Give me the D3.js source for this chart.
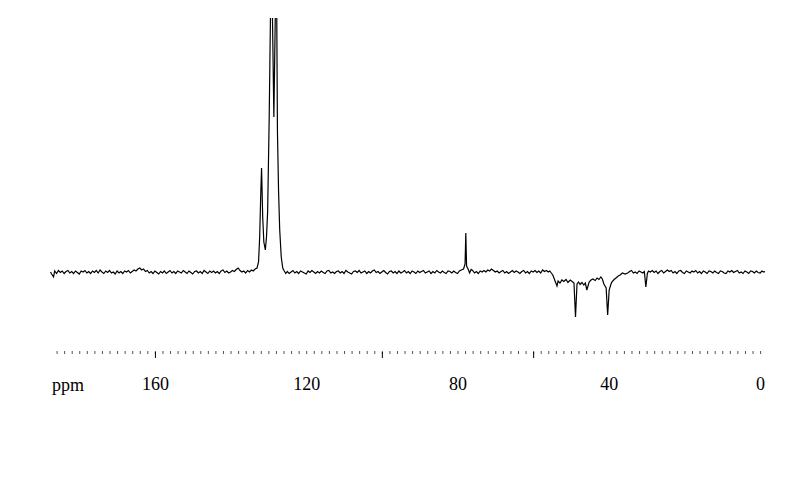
<!DOCTYPE html>
<html>
<head>
<meta charset="utf-8">
<script src="https://cdn.jsdelivr.net/npm/d3@7"></script>
<style>
  body { margin: 0; background: #fff; }
  svg { display: block; }
</style>
</head>
<body>
<script>
// 13C NMR spectrum, values as [ppm, intensity]

const leftBaseline = [
  [187.6, 0], [187.3, -2], [186.8, -5], [186.5, 1], [186, -1.5], [185.5, 1.5], [185, -0.5],
  [184.5, 1], [184, -1.5], [183.5, 0.5], [183, 1.5], [182.5, -1], [182, 0.5], [181.5, -1.5],
  [181, 1], [180.5, -0.5], [180, -2], [179.5, 1], [179, 0], [178.5, 1.5], [178, -1],
  [177.5, 0.5], [177, -1.5], [176.5, 1], [176, -0.5], [175.5, 1.5], [175, -1], [174.5, 2],
  [174, 0], [173.5, -1.5], [173, 1], [172.5, -0.5], [172, 1.5], [171.5, -1], [171, 0],
  [170.5, -2], [170, 1], [169.5, -1], [169, 0.5], [168.5, -1.5], [168, 1], [167.5, 0],
  [167, 1.5], [166.5, -1], [166, 0.5], [165.5, 2], [165, 1], [164.5, 3], [164, 4],
  [163.5, 2], [163, 3], [162.5, 0.5], [162, 1.5], [161.5, -1], [161, 0.5], [160.5, -1.5],
  [160, 1], [159.5, -0.5], [159, -2], [158.5, 0.5], [158, -1], [157.5, 1], [157, -1.5],
  [156.5, 0], [156, 1.5], [155.5, -1], [155, 0.5], [154.5, -1.5], [154, 1], [153.5, 0],
  [153, -1], [152.5, 1.5], [152, 0], [151.5, -1.5], [151, 1], [150.5, -0.5], [150, -2],
  [149.5, 0.5], [149, 1], [148.5, -1], [148, 0.5], [147.5, -1.5], [147, 1.5], [146.5, 0],
  [146, -1.5], [145.5, 1], [145, -0.5], [144.5, 1], [144, -1], [143.5, 0.5], [143, -1.5],
  [142.5, 1], [142, 2], [141.5, -0.5], [141, 1], [140.5, -1], [140, 0], [139.5, 1.5],
  [139, 0.5], [138.5, 2.5], [138, 4], [137.5, 1.5], [137, 0], [136.5, 1], [136, -1],
  [135.5, 1.5], [135, 0], [134.5, 2], [134, 1], [133.5, 3]
];

const aromaticPeaks = [
  [133, 4], [132.6, 10], [132.3, 35], [132, 80], [131.8, 104], [131.5, 55],
  [131.2, 30], [130.8, 22], [130.5, 35], [130.2, 60], [129.8, 150], [129.2, 330],
  [128.55, 155], [127.9, 330], [127.6, 140], [127.3, 80], [127, 42], [126.6, 15],
  [126.2, 4], [125.8, 1], [125.4, -1.5]
];

const midBaseline = [
  [125, 0.5], [124.5, -1.5], [124, 0], [123.5, 1.5], [123, -1], [122.5, 0.5], [122, -1.5],
  [121.5, 1], [121, 0], [120.5, -1], [120, -2], [119.5, 1], [119, -0.5], [118.5, 1.5],
  [118, 0], [117.5, -1.5], [117, 0.5], [116.5, -1], [116, 1], [115.5, -0.5], [115, -1.5],
  [114.5, 1], [114, 1.5], [113.5, -1], [113, 0], [112.5, -1.5], [112, 0.5], [111.5, 1],
  [111, -1], [110.5, 0.5], [110, -1.5], [109.5, 1.5], [109, 0], [108.5, -1], [108, -2],
  [107.5, 0.5], [107, 1], [106.5, -0.5], [106, 1.5], [105.5, -1], [105, 0], [104.5, 1],
  [104, -1.5], [103.5, 0.5], [103, -1], [102.5, 1], [102, 2], [101.5, -0.5], [101, 0.5],
  [100.5, -1.5], [100, 0], [99.5, 1.5], [99, -0.5], [98.5, -2], [98, 0.5], [97.5, 1],
  [97, -1], [96.5, 0.5], [96, -1.5], [95.5, 1], [95, -1], [94.5, 0], [94, 1.5], [93.5, -1],
  [93, 0.5], [92.5, -1.5], [92, 1], [91.5, 0], [91, -1.5], [90.5, 1], [90, -0.5],
  [89.5, 0.5], [89, 1.5], [88.5, -1], [88, 0], [87.5, 1], [87, -1.5], [86.5, 0.5],
  [86, -1], [85.5, 1.5], [85, 0], [84.5, -1], [84, 1], [83.5, -0.5], [83, -1.5],
  [82.5, 1], [82, 0.5], [81.5, -1], [81, 1], [80.5, -0.5], [80, -1.5], [79.5, 1], [79, 2]
];

const solventPeak = [
  [78.4, 3], [78, 8], [77.8, 39], [77.6, 6], [77.2, 3], [76.8, -1], [76.4, 2.5]
];

const midBaseline2 = [
  [76, 1.5], [75.5, -1], [75, 0.5], [74.5, -1.5], [74, 1], [73.5, 0], [73, 1.5],
  [72.5, 0], [72, 2], [71.5, 1], [71, 3], [70.5, 1.5], [70, 0], [69.5, 1], [69, -1],
  [68.5, 0.5], [68, 1.5], [67.5, -1], [67, 0.5], [66.5, -1.5], [66, 0], [65.5, 1.5],
  [65, -0.5], [64.5, 1], [64, 0], [63.5, -1.5], [63, 0.5], [62.5, 1.5], [62, -1],
  [61.5, 0.5], [61, -1.5], [60.5, 1], [60, 0], [59.5, 1.5], [59, -0.5], [58.5, 1],
  [58, -1], [57.5, 2], [57, 0.5], [56.5, 1.5], [56, 0]
];

const aliphatic = [
  [55.6, 1], [55.2, -1], [54.8, -3], [54.2, -9], [53.7, -14], [53.4, -9], [52.9, -11],
  [52.4, -8], [51.9, -9.5], [51.3, -7.5], [50.8, -10.5], [50.2, -8], [49.7, -9.5],
  [49.2, -11], [48.8, -45], [48.4, -12], [48, -10], [47.6, -12.5], [47.1, -10.5],
  [46.6, -13], [46.2, -11], [45.8, -18], [45.2, -10], [44.7, -8], [44.2, -7],
  [43.6, -8.5], [43.1, -6], [42.6, -7.5], [42.1, -5], [41.7, -7], [41.3, -12],
  [40.7, -16], [40.3, -43], [39.9, -18], [39.5, -13], [39.2, -10], [38.6, -7.5],
  [38.1, -6], [37.5, -4], [37, -3], [36.4, -1], [35.7, -2]
];

const rightBaseline = [
  [35, -1], [34.5, 0.5], [34, 1.5], [33.5, -1], [33, 0], [32.5, -1.5], [32, 1],
  [31.5, 0], [31, -1], [30.6, 0.5], [30.2, -15], [29.8, -1.5], [29.5, 1], [29, 0],
  [28.5, 1.5], [28, -0.5], [27.5, 1], [27, -1.5], [26.5, 0.5], [26, 1.5], [25.5, -1],
  [25, 0.5], [24.5, 2], [24, 0.5], [23.5, 1.5], [23, -1], [22.5, 0.5], [22, -1.5],
  [21.5, 1], [21, 1.5], [20.5, -0.5], [20, -1.5], [19.5, 1], [19, 0], [18.5, -1],
  [18, 1], [17.5, 0], [17, 1.5], [16.5, -1], [16, 0.5], [15.5, -1.5], [15, 1],
  [14.5, 0], [14, -1.5], [13.5, 1], [13, 0.5], [12.5, -1], [12, 1], [11.5, -0.5],
  [11, -1.5], [10.5, 1], [10, 0.5], [9.5, -1], [9, -1.5], [8.5, 1], [8, 0], [7.5, 1.5],
  [7, -0.5], [6.5, 0.5], [6, 1.5], [5.5, -1], [5, 0], [4.5, -1.5], [4, 1], [3.5, 0],
  [3, -1.5], [2.5, 1], [2, 0.5], [1.5, -1], [1, 1], [0.5, -0.5], [0, -1], [-0.5, 1],
  [-1, 0], [-1.3, 0.5]
];

const labelTicks = [160, 120, 80, 40, 0];
const majorTicks = [160, 100, 60];

const spectrum = [].concat(leftBaseline, aromaticPeaks, midBaseline, solventPeak,
  midBaseline2, aliphatic, rightBaseline);

const width = 800, height = 477;

const x = d3.scaleLinear().domain([188, -1.3]).range([49, 765]);
const y = d3.scaleLinear().domain([0, 100]).range([272, 172]);

const svg = d3.select('body').append('svg')
  .attr('width', width)
  .attr('height', height);

svg.append('rect')
  .attr('width', width)
  .attr('height', height)
  .attr('fill', '#fff');

svg.append('clipPath')
  .attr('id', 'plot-clip')
  .append('rect')
  .attr('x', 0)
  .attr('y', 18)
  .attr('width', width)
  .attr('height', height - 18);

const line = d3.line()
  .x(d => x(d[0]))
  .y(d => y(d[1]));

svg.append('path')
  .datum(spectrum)
  .attr('clip-path', 'url(#plot-clip)')
  .attr('fill', 'none')
  .attr('stroke', '#000')
  .attr('stroke-width', 1.2)
  .attr('d', line);

// minor ticks
const minorAxis = d3.axisBottom(x)
  .tickValues(d3.range(0, 188, 2))
  .tickSize(3)
  .tickFormat('');

svg.append('g')
  .attr('transform', 'translate(0,351)')
  .call(minorAxis)
  .call(g => g.select('.domain').remove())
  .call(g => g.selectAll('.tick line').attr('stroke', '#555'));

// major ticks
const majorAxis = d3.axisBottom(x)
  .tickValues(majorTicks)
  .tickSize(6)
  .tickFormat('');

svg.append('g')
  .attr('transform', 'translate(0,352)')
  .call(majorAxis)
  .call(g => g.select('.domain').remove())
  .call(g => g.selectAll('.tick line').attr('stroke', '#000'));

// labels
const labelAxis = d3.axisBottom(x)
  .tickValues(labelTicks)
  .tickSize(0)
  .tickPadding(0)
  .tickFormat(d3.format('d'));

svg.append('g')
  .attr('transform', 'translate(0,377)')
  .call(labelAxis)
  .call(g => g.select('.domain').remove())
  .call(g => g.selectAll('.tick text')
    .attr('fill', '#000')
    .attr('font-family', '"Liberation Serif", "Times New Roman", serif')
    .attr('font-size', 18));

svg.append('text')
  .attr('x', 52)
  .attr('y', 391)
  .attr('font-family', '"Liberation Serif", "Times New Roman", serif')
  .attr('font-size', 18)
  .attr('fill', '#000')
  .text('ppm');
</script>
</body>
</html>
